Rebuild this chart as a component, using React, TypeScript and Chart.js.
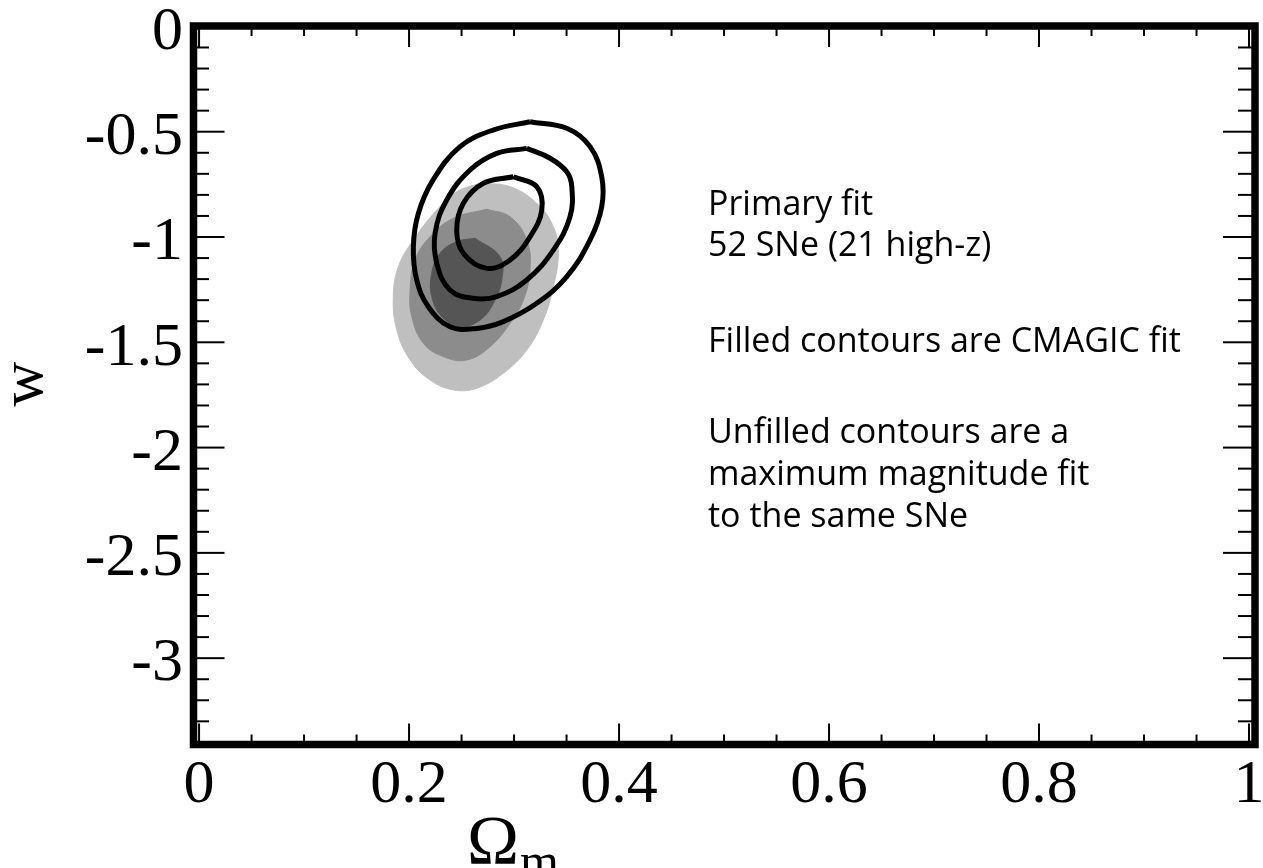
import React, { useEffect, useRef } from "react";
import { Chart, registerables } from "chart.js";

Chart.register(...registerables);

// ---- axes ----
const X_MIN = -0.0053;
const X_MAX = 1.0057;
const Y_MIN = -3.41;
const Y_MAX = 0.002;
const X_MAJOR_STEP = 0.2;
const X_MINOR_STEP = 0.05;
const Y_MAJOR_STEP = 0.5;
const Y_MINOR_STEP = 0.1;
const X_TICK_RANGE = [0, 1];
const Y_TICK_RANGE = [-3.4, 0];

const X_TITLE = "Ω";
const X_TITLE_SUB = "m";
const Y_TITLE = "w";

const NOTE_LINES = [
  "Primary fit",
  "52 SNe (21 high-z)",
  "Filled contours are CMAGIC fit",
  "Unfilled contours are a",
  "maximum magnitude fit",
  "to the same SNe",
];

// ---- contours (Omega_m, w) ----
// filled (CMAGIC fit)
const cmagicOuter: number[][] = [
  [0.2676, -0.745], [0.2962, -0.761], [0.3216, -0.84], [0.3374, -0.951], [0.3422, -1.077],
  [0.3374, -1.236], [0.3279, -1.394], [0.3121, -1.537], [0.2898, -1.647], [0.2645, -1.718],
  [0.2422, -1.726], [0.22, -1.679], [0.201, -1.584], [0.1883, -1.442], [0.185, -1.283],
  [0.1898, -1.141], [0.2041, -1.014], [0.2264, -0.872], [0.2454, -0.785],
];
const cmagicMiddle: number[][] = [
  [0.274, -0.868], [0.2962, -0.904], [0.3121, -1.014], [0.3152, -1.157], [0.3089, -1.299],
  [0.2962, -1.41], [0.2771, -1.521], [0.255, -1.584], [0.2327, -1.568], [0.2137, -1.505],
  [0.2026, -1.378], [0.201, -1.252], [0.2057, -1.109], [0.22, -0.999], [0.2422, -0.911],
];
const cmagicInner: number[][] = [
  [0.2629, -1.006], [0.2867, -1.094], [0.2883, -1.204], [0.2803, -1.315], [0.2676, -1.394],
  [0.2486, -1.426], [0.2311, -1.378], [0.2216, -1.283], [0.2216, -1.172], [0.2295, -1.077],
  [0.2454, -1.022],
];
// unfilled (maximum magnitude fit)
const maxmagOuter: number[][] = [
  [0.3152, -0.4525], [0.3502, -0.4838], [0.3724, -0.571], [0.3835, -0.714], [0.3835, -0.856],
  [0.3724, -1.014], [0.3502, -1.188], [0.3216, -1.315], [0.2898, -1.402], [0.2645, -1.434],
  [0.239, -1.426], [0.2184, -1.331], [0.2073, -1.204], [0.2041, -1.046], [0.2089, -0.887],
  [0.2229, -0.729], [0.2486, -0.571], [0.28, -0.492],
];
const maxmagMiddle: number[][] = [
  [0.3121, -0.579], [0.3343, -0.626], [0.3502, -0.69], [0.355, -0.761], [0.3533, -0.904],
  [0.3374, -1.062], [0.3121, -1.204], [0.2835, -1.283], [0.2612, -1.291], [0.239, -1.252],
  [0.2264, -1.125], [0.2248, -0.982], [0.2359, -0.824], [0.2581, -0.682], [0.2835, -0.603],
];
const maxmagInner: number[][] = [
  [0.2993, -0.714], [0.3216, -0.761], [0.3264, -0.872], [0.3152, -0.999], [0.2962, -1.109],
  [0.274, -1.149], [0.2517, -1.077], [0.2454, -0.967], [0.2517, -0.84], [0.2708, -0.745],
];

const closed = (pts: number[][]) =>
  pts.concat([pts[0]]).map(([x, y]) => ({ x, y }));

const SERIF = "'Liberation Serif', 'Times New Roman', serif";
const SANS = "'Open Sans', 'Noto Sans', sans-serif";

const decorPlugin = {
  id: "decor",
  afterDraw(chart: any) {
    const { ctx, chartArea: a } = chart;
    const xs = chart.scales.x;
    const ys = chart.scales.y;
    const line = (x1: number, y1: number, x2: number, y2: number) => {
      ctx.beginPath();
      ctx.moveTo(x1, y1);
      ctx.lineTo(x2, y2);
      ctx.stroke();
    };
    ctx.save();
    ctx.strokeStyle = "#000";
    ctx.lineWidth = 2;
    // x ticks (top & bottom, inward)
    const nx = Math.round((X_TICK_RANGE[1] - X_TICK_RANGE[0]) / X_MINOR_STEP);
    const xPerMajor = Math.round(X_MAJOR_STEP / X_MINOR_STEP);
    for (let i = 0; i <= nx; i++) {
      const v = X_TICK_RANGE[0] + i * X_MINOR_STEP;
      const px = xs.getPixelForValue(v);
      const len = i % xPerMajor === 0 ? 21 : 10;
      line(px, a.bottom, px, a.bottom - len);
      line(px, a.top, px, a.top + len);
    }
    // y ticks (left & right, inward)
    const ny = Math.round((Y_TICK_RANGE[1] - Y_TICK_RANGE[0]) / Y_MINOR_STEP);
    const yPerMajor = Math.round(Y_MAJOR_STEP / Y_MINOR_STEP);
    for (let i = 0; i <= ny; i++) {
      const v = Y_TICK_RANGE[1] - i * Y_MINOR_STEP;
      const py = ys.getPixelForValue(v);
      const major = i % yPerMajor === 0;
      line(a.left, py, a.left + (major ? 31 : 15.5), py);
      line(a.right, py, a.right - (major ? 32 : 17), py);
    }
    // frame
    ctx.lineWidth = 7.5;
    ctx.strokeRect(a.left, a.top, a.right - a.left, a.bottom - a.top);

    // annotation text
    ctx.fillStyle = "#000";
    ctx.font = `34px ${SANS}`;
    ctx.textAlign = "left";
    ctx.textBaseline = "alphabetic";
    const baselines = [215, 256, 352, 443, 485, 527];
    NOTE_LINES.forEach((t, i) => ctx.fillText(t, 708, baselines[i]));

    // y title
    ctx.save();
    ctx.translate(42, 384);
    ctx.rotate(-Math.PI / 2);
    ctx.font = `62px ${SERIF}`;
    ctx.textAlign = "center";
    ctx.fillText(Y_TITLE, 0, 0);
    ctx.restore();

    // x title
    ctx.font = `70px ${SERIF}`;
    ctx.textAlign = "left";
    ctx.fillText(X_TITLE, 467, 864);
    const w = ctx.measureText(X_TITLE).width;
    ctx.font = `50px ${SERIF}`;
    ctx.fillText(X_TITLE_SUB, 467 + w + 1, 878);
    ctx.restore();
  },
};

export default function App() {
  const ref = useRef<HTMLCanvasElement | null>(null);
  useEffect(() => {
    document.body.style.margin = "0";
    const canvas = ref.current!;
    const fillDs = (pts: number[][], color: string, order: number) => ({
      data: closed(pts),
      showLine: true,
      fill: "shape",
      backgroundColor: color,
      borderColor: color,
      borderWidth: 1,
      pointRadius: 0,
      tension: 0.4,
      order,
    });
    const lineDs = (pts: number[][], order: number) => ({
      data: closed(pts),
      showLine: true,
      fill: false,
      borderColor: "#000",
      borderWidth: 5,
      pointRadius: 0,
      tension: 0.4,
      order,
    });
    const tickFmt = (v: any) => String(Math.round(Number(v) * 100) / 100);
    const chart = new Chart(canvas, {
      type: "scatter",
      data: {
        datasets: [
          fillDs(cmagicOuter, "#bfbfbf", 6),
          fillDs(cmagicMiddle, "#8c8c8c", 5),
          fillDs(cmagicInner, "#555555", 4),
          lineDs(maxmagOuter, 3),
          lineDs(maxmagMiddle, 2),
          lineDs(maxmagInner, 1),
        ] as any,
      },
      options: {
        animation: false,
        responsive: false,
        maintainAspectRatio: false,
        devicePixelRatio: 1,
        layout: { padding: { top: 26, right: 8, bottom: 0, left: 0 } },
        plugins: { legend: { display: false }, tooltip: { enabled: false } },
        scales: {
          x: {
            type: "linear",
            min: X_MIN,
            max: X_MAX,
            grid: { display: false, drawTicks: false, tickLength: 0 },
            border: { display: false },
            afterFit: (s: any) => {
              s.height = 123.5;
              s.paddingLeft = 0;
              s.paddingRight = 0;
            },
            ticks: {
              stepSize: X_MAJOR_STEP,
              includeBounds: false,
              autoSkip: false,
              maxRotation: 0,
              padding: 4,
              color: "#000",
              font: { family: SERIF, size: 62 },
              callback: tickFmt,
            },
          },
          y: {
            type: "linear",
            min: Y_MIN,
            max: Y_MAX,
            grid: { display: false, drawTicks: false, tickLength: 0 },
            border: { display: false },
            afterFit: (s: any) => {
              s.width = 193.5;
              s.paddingTop = 0;
              s.paddingBottom = 0;
            },
            ticks: {
              stepSize: Y_MAJOR_STEP,
              includeBounds: false,
              autoSkip: false,
              padding: 10.5,
              labelOffset: 6,
              color: "#000",
              font: { family: SERIF, size: 62 },
              callback: tickFmt,
            },
          },
        },
      } as any,
      plugins: [decorPlugin],
    });
    return () => chart.destroy();
  }, []);
  return (
    <div style={{ width: 1263, height: 868, background: "#fff" }}>
      <canvas ref={ref} width={1263} height={868} style={{ display: "block" }} />
    </div>
  );
}
